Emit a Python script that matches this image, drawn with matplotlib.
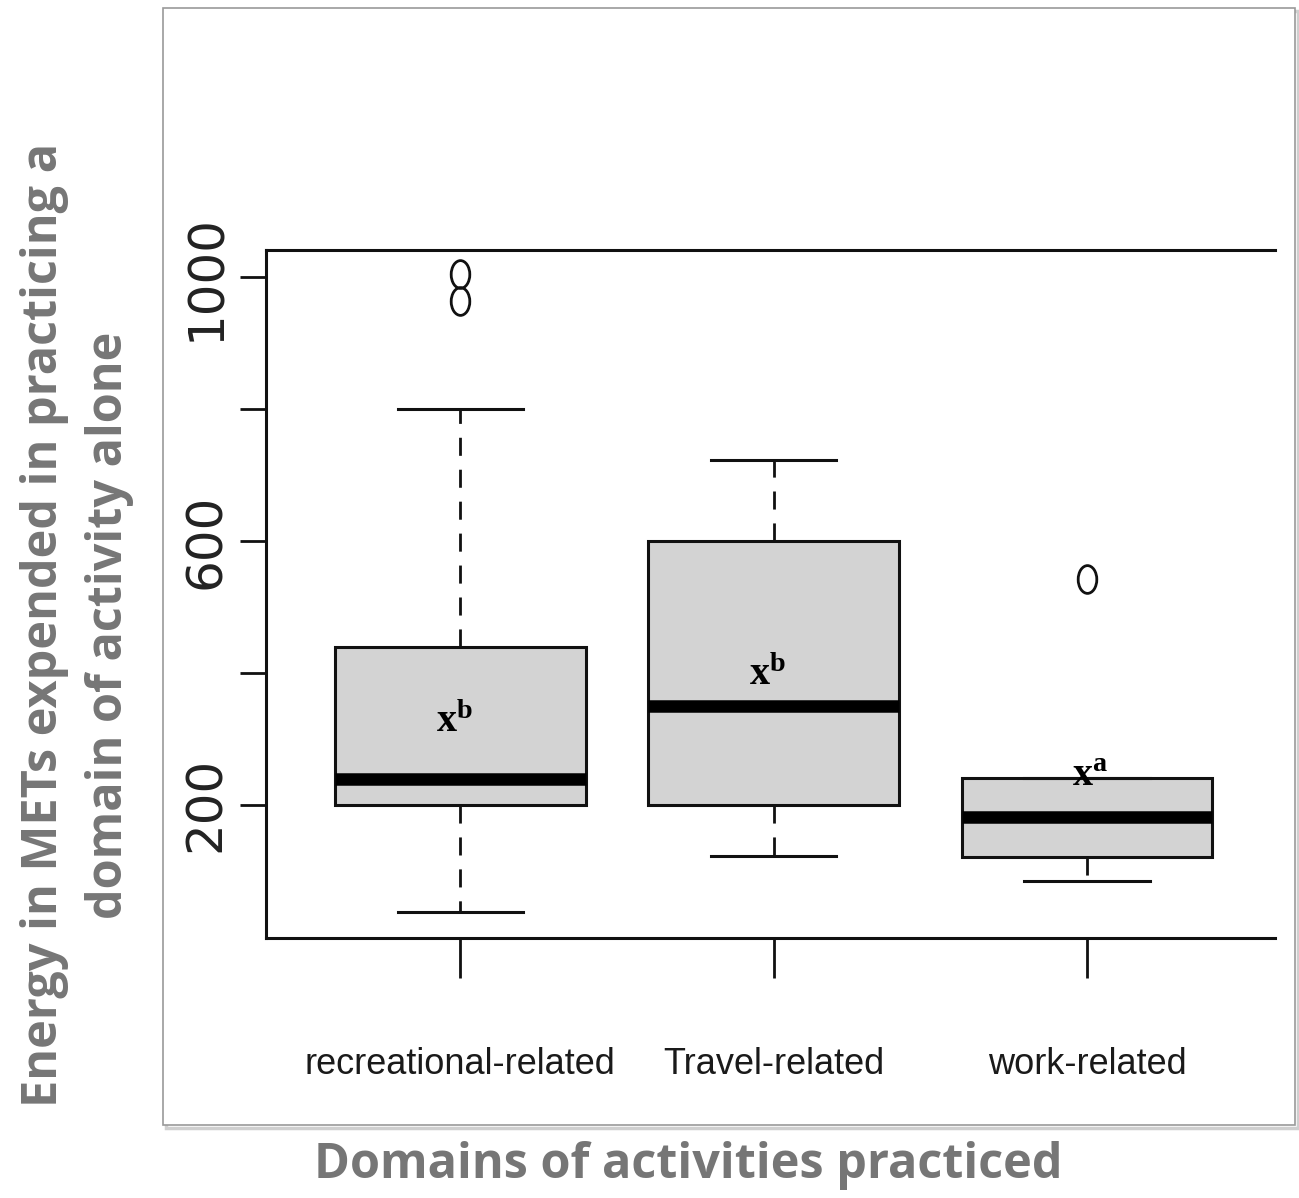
import matplotlib
matplotlib.use("Agg")
import matplotlib.pyplot as plt
from matplotlib.patches import Rectangle
from matplotlib.path import Path
from matplotlib.transforms import Affine2D

# Box statistics (METs)
domains = ["recreational-related", "Travel-related", "work-related"]
q1 = [200, 200, 121]
median = [239, 350, 182]
q3 = [439, 600, 241]
whisker_low = [38, 123, 84]
whisker_high = [800, 723, 241]
outliers = [[963, 1005], [], [542]]

# significance letters drawn inside the boxes
letters = ["b", "b", "a"]
letter_x = [0.98, 1.98, 3.01]
letter_y = [327, 398, 245]

W, H = 1299, 1198
fig = plt.figure(figsize=(W / 100, H / 100), dpi=100)

# outer picture frame with a light shadow
fig.patches.append(Rectangle(((163 + 3) / W, 1 - (1125 + 3) / H), (1295 - 163) / W, (1125 - 8) / H,
                             transform=fig.transFigure, fill=False, edgecolor="#cfcfcf", lw=2.5, zorder=-2))
fig.patches.append(Rectangle((163 / W, 1 - 1125 / H), (1295 - 163) / W, (1125 - 8) / H,
                             transform=fig.transFigure, facecolor="white", edgecolor="#9a9a9a", lw=1.2, zorder=-1))

ax = fig.add_axes([266 / W, 1 - 938 / H, (1275 - 266) / W, (938 - 250) / H])
ax.patch.set_alpha(0)

stats = []
for i, name in enumerate(domains):
    stats.append(dict(label=name, med=median[i], q1=q1[i], q3=q3[i],
                      whislo=whisker_low[i], whishi=whisker_high[i], fliers=outliers[i]))

ellipse = Path.unit_circle().transformed(Affine2D().scale(0.67, 1.0))

ax.bxp(stats, positions=[1, 2, 3], widths=0.8, patch_artist=True, showfliers=True,
       boxprops=dict(facecolor="#d3d3d3", edgecolor="#111111", linewidth=2.2),
       medianprops=dict(color="black", linewidth=9, solid_capstyle="butt"),
       whiskerprops=dict(color="#111111", linewidth=2.0, linestyle=(0, (6.5, 5))),
       capprops=dict(color="#111111", linewidth=2.2),
       capwidths=0.4,
       flierprops=dict(marker=ellipse, markersize=20, markerfacecolor="none",
                       markeredgecolor="#111111", markeredgewidth=2.0))

plt.rcParams["mathtext.fontset"] = "custom"
plt.rcParams["mathtext.bf"] = "Liberation Serif:bold"
plt.rcParams["mathtext.rm"] = "Liberation Serif"
for x, y, l in zip(letter_x, letter_y, letters):
    ax.text(x, y, r"$\mathbf{x^{" + l + "}}$", ha="center", va="center", fontsize=29, color="black")

ax.set_xlim(0.38, 3.6)
ax.set_ylim(-2, 1041)

for side in ["left", "top", "bottom"]:
    ax.spines[side].set_linewidth(2.2)
    ax.spines[side].set_color("#111111")
ax.spines["right"].set_visible(False)

ax.set_xticks([1, 2, 3])
ax.set_xticklabels(domains, family=["Liberation Sans Narrow", "Liberation Sans"],
                   fontsize=26, color="#1a1a1a")
ax.tick_params(axis="x", length=28.8, width=2.0, pad=50, color="#111111")

ax.set_yticks([200, 400, 600, 800, 1000])
ax.set_yticklabels(["200", "", "600", "", "1000"], fontsize=36, color="#222222", rotation=90, va="center")
ax.tick_params(axis="y", length=18.7, width=2.0, pad=7, color="#111111")

grey = "#767676"
fig.text(45 / W, 1 - 625 / H, "Energy in METs expended in practicing a", rotation=90,
         ha="center", va="center", fontsize=35, fontweight="bold", color=grey, family="Open Sans")
fig.text(110 / W, 1 - 625 / H, "domain of activity alone", rotation=90,
         ha="center", va="center", fontsize=35, fontweight="bold", color=grey, family="Open Sans")
fig.text(688 / W, 1 - 1165 / H, "Domains of activities practiced",
         ha="center", va="center", fontsize=35, fontweight="bold", color=grey, family="Open Sans")

fig.savefig("out.png", dpi=100)
